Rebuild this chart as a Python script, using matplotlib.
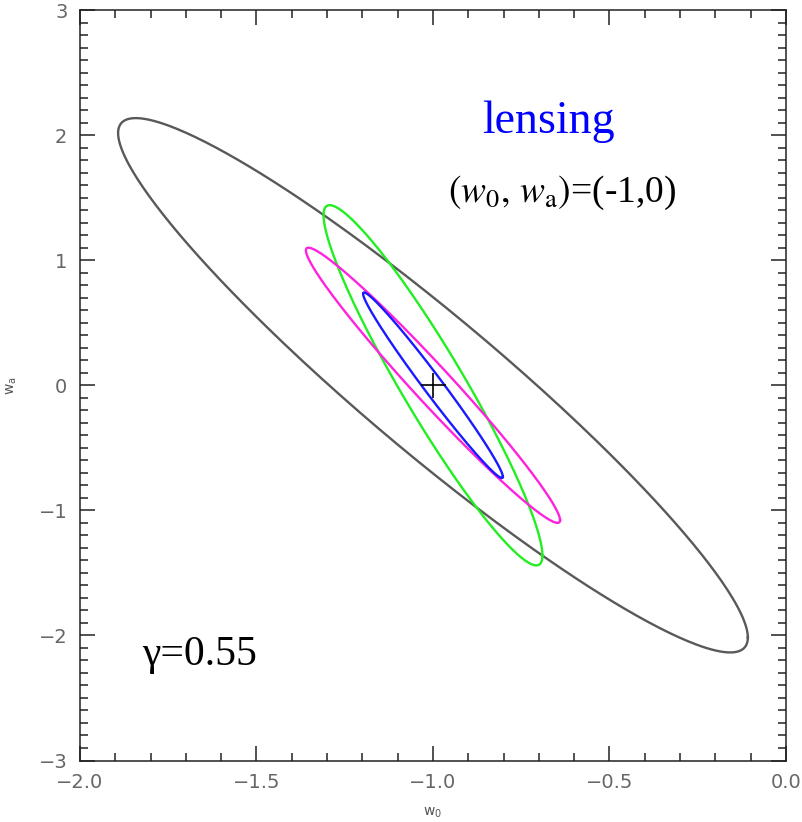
import matplotlib
matplotlib.use('Agg')
import matplotlib.pyplot as plt
import numpy as np
from matplotlib.ticker import MultipleLocator

# fiducial model
w0_fid = -1.0
wa_fid = 0.0

# ellipse half-extents in w0 and wa, and the correlation
names = ['gray', 'green', 'magenta', 'blue']
sig_w0 = [0.892, 0.31, 0.36, 0.198]
sig_wa = [2.136, 1.44, 1.10, 0.742]
rho = [-0.944, -0.944, -0.98, -0.986]
colors = ['#595959', '#22ee22', '#ff22dd', '#1a1aff']

x_ticks = [-2.0, -1.5, -1.0, -0.5, 0.0]
y_ticks = [-3, -2, -1, 0, 1, 2, 3]

def fmt(v, s):
	lab = s % abs(v)
	return '\u2212' + lab if v < 0 else lab

fig = plt.figure(figsize=(8.03, 8.22), dpi=100)
ax = fig.add_axes([0.0996, 0.0748, 0.8792, 0.913])

t = np.linspace(0, 2*np.pi, 400)
for sx, sy, r, c in zip(sig_w0, sig_wa, rho, colors):
	x = w0_fid + sx*np.cos(t)
	y = wa_fid + sy*(r*np.cos(t) + np.sqrt(1 - r**2)*np.sin(t))
	ax.plot(x, y, color=c, lw=1.7)

ax.plot([w0_fid], [wa_fid], marker='+', color='black', markersize=18, mew=1.2)

ax.set_xlim(-2.0, 0.0)
ax.set_ylim(-3, 3)
ax.set_xticks(x_ticks)
ax.set_yticks(y_ticks)
ax.set_xticklabels([fmt(v, '%.1f') for v in x_ticks])
ax.set_yticklabels([fmt(v, '%d') for v in y_ticks])
ax.xaxis.set_minor_locator(MultipleLocator(0.1))
ax.yaxis.set_minor_locator(MultipleLocator(0.1))
ax.tick_params(which='both', direction='in', top=True, right=True, width=1.1, color='#222222')
ax.tick_params(which='major', length=11, labelsize=14, labelcolor='#666666', pad=9)
ax.tick_params(which='minor', length=5.5)
for sp in ax.spines.values():
	sp.set_linewidth(1.1)
	sp.set_color('#222222')

ax.set_xlabel(r'$\mathregular{w_0}$', fontsize=10, color='#555555', labelpad=10)
ax.set_ylabel(r'$\mathregular{w_a}$', fontsize=10, color='#555555', labelpad=14)

ax.text(-0.674, 2.02, 'lensing', color='#0000ff', fontsize=33,
	family='Liberation Serif', ha='center', va='baseline')
plt.rcParams['mathtext.fontset'] = 'stix'
ax.text(-0.635, 1.47, r'$(w_{0},\, w_{\mathrm{a}})$=(-1,0)', fontsize=27,
	family='Liberation Serif', ha='center', va='baseline')
ax.text(-1.823, -2.24, 'γ=0.55', fontsize=30,
	family='Liberation Serif', ha='left', va='baseline')

plt.savefig('out.png', dpi=100)
